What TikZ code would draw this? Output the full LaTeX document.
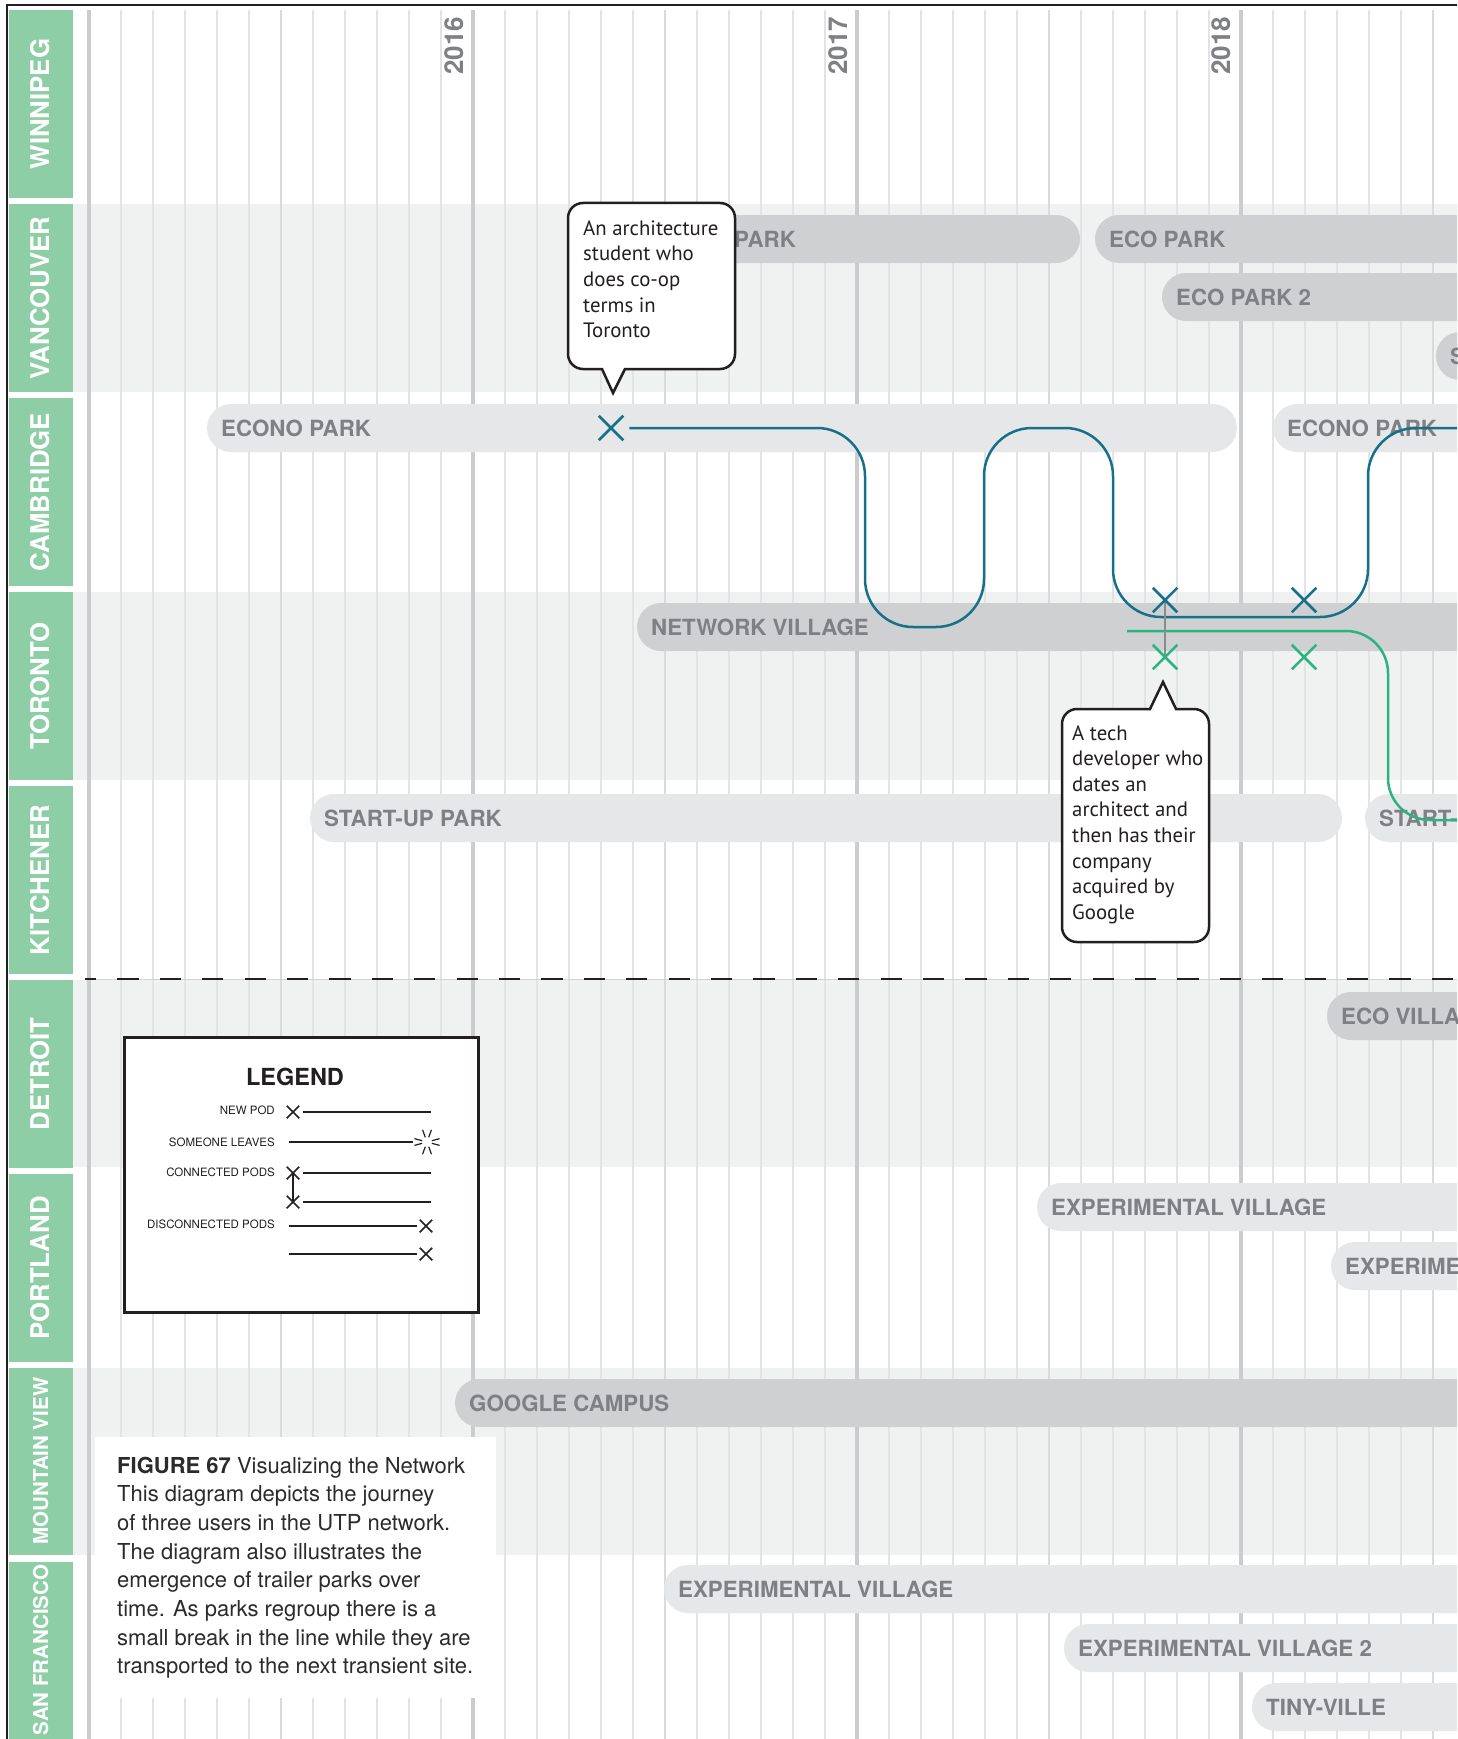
\documentclass[tikz,border=0pt]{standalone}
\usepackage{fontspec}
\setmainfont{TeX Gyre Heros}
\newfontfamily\bubblefont{PT Sans}
\usetikzlibrary{shapes.misc}
\definecolor{tabgreen}{HTML}{8DCEA6}
\definecolor{bandgrey}{HTML}{F0F1F1}
\definecolor{pilldark}{HTML}{CFD0D2}
\definecolor{pilllight}{HTML}{E6E7E8}
\definecolor{pilltext}{HTML}{7E8083}
\definecolor{monthline}{HTML}{E2E3E4}
\definecolor{halfline}{HTML}{D9DADB}
\definecolor{yearline}{HTML}{CBCCCE}
\definecolor{ink}{HTML}{231F20}
\definecolor{tealpath}{HTML}{17708A}
\definecolor{greenpath}{HTML}{2BB482}
\definecolor{linkgrey}{HTML}{8A8B8D}
\definecolor{captext}{HTML}{2B2B2B}

\newcommand{\drawpill}[6]{%
  \fill[#4, rounded corners=24pt] (#2,#1-24) rectangle (#3,#1+24);
  \node[pilltxt] (#5) at (#2+14,#1+8) {#6};
}
\newcommand{\drawtab}[4]{%
  \fill[tabgreen] (9,#1) rectangle (73,#1+188);
  \node[#4] (#2) at (49,#1+94) {#3};
}

\begin{document}
\begin{tikzpicture}[x=1pt,y=-1pt,
  pilltxt/.style={font=\fontsize{22.3}{24}\selectfont\bfseries, text=pilltext, anchor=base west, inner sep=0pt},
  tablbl/.style={font=\fontsize{25.8}{28}\selectfont\bfseries, text=white, rotate=90, anchor=base, inner sep=0pt},
  tablblsm/.style={font=\fontsize{20.5}{24}\selectfont\bfseries, text=white, rotate=90, anchor=base, inner sep=0pt},
  yearlbl/.style={font=\fontsize{26}{30}\selectfont\bfseries, text=pilltext, rotate=90, anchor=base west, inner sep=0pt},
  monthrule/.style={draw=monthline, line width=1.6pt},
  halfrule/.style={draw=halfline, line width=2.4pt},
  yearrule/.style={draw=yearline, line width=4pt},
  bubble/.style={draw=ink, line width=2.5pt, fill=white, line join=miter},
  bubbletxt/.style={font=\bubblefont\fontsize{20.8}{25.6}\selectfont, text=ink, anchor=base west, inner sep=0pt},
  captxt/.style={font=\fontsize{22}{28.7}\selectfont, text=captext, anchor=base west, inner sep=0pt},
  podx/.style={cross out, draw=#1, line width=2.5pt, minimum size=22pt, inner sep=0pt},
  legx/.style={cross out, draw=ink, line width=1.5pt, minimum size=11pt, inner sep=0pt},
  legline/.style={draw=ink, line width=2pt},
  legtxt/.style={font=\fontsize{11.5}{13}\selectfont, text=ink, anchor=base east, inner sep=0pt},
  tealline/.style={draw=tealpath, line width=2.5pt},
  greenline/.style={draw=greenpath, line width=2.5pt}
]
\useasboundingbox (0,0) rectangle (1457,1739);
\begin{scope}
\clip (0,0) rectangle (1457,1739);
\fill[white] (0,0) rectangle (1457,1739);

% shaded bands
\fill[bandgrey] (73,204) rectangle (1460,392);
\fill[bandgrey] (73,592) rectangle (1460,780);
\fill[bandgrey] (73,980) rectangle (1460,1167);
\fill[bandgrey] (73,1368) rectangle (1460,1555);

% grid
\foreach \k in {0,...,42}{
  \pgfmathtruncatemacro{\xx}{89+32*\k}
  \pgfmathtruncatemacro{\mm}{mod(\k,12)}
  \pgfmathtruncatemacro{\hh}{mod(\k,6)}
  \ifnum\mm=0
    \draw[yearrule] (\xx,10) -- (\xx,1745);
  \else\ifnum\hh=0
    \draw[halfrule] (\xx,10) -- (\xx,1745);
  \else
    \draw[monthrule] (\xx,10) -- (\xx,1745);
  \fi\fi
}

% divider
\draw[draw=black!18, line width=1pt] (85,979) -- (1460,979);
\draw[draw=ink, line width=2pt, dash pattern=on 21.2pt off 21.2pt, dash phase=10pt] (85,979) -- (1460,979);

% year labels
\node[yearlbl] (y2016) at (463,75) {2016};
\node[yearlbl] (y2017) at (847,75) {2017};
\node[yearlbl] (y2018) at (1230,75) {2018};

% pills
\fill[pilldark, rounded corners=24pt] (650,215) rectangle (1080,263);
\node[pilltxt] (vanA) at (734,247) {PARK};
\drawpill{239}{1095}{1500}{pilldark}{vanB}{ECO PARK}
\drawpill{297}{1162}{1500}{pilldark}{vanC}{ECO PARK 2}
\drawpill{356}{1436}{1500}{pilldark}{vanD}{S}
\drawpill{428}{207}{1237}{pilllight}{camA}{ECONO PARK}
\drawpill{428}{1273}{1500}{pilllight}{camB}{ECONO PARK}
\drawpill{627}{637}{1500}{pilldark}{torA}{NETWORK VILLAGE}
\drawpill{818}{310}{1342}{pilllight}{kitA}{START-UP PARK}
\drawpill{818}{1365}{1500}{pilllight}{kitB}{START-}
\drawpill{1016}{1327}{1500}{pilldark}{detA}{ECO VILLA}
\drawpill{1207}{1037}{1500}{pilllight}{porA}{EXPERIMENTAL VILLAGE}
\drawpill{1266}{1331}{1500}{pilllight}{porB}{EXPERIME}
\drawpill{1403}{455}{1500}{pilldark}{mvA}{GOOGLE CAMPUS}
\drawpill{1589}{664}{1500}{pilllight}{sfA}{EXPERIMENTAL VILLAGE}
\drawpill{1648}{1064}{1500}{pilllight}{sfB}{EXPERIMENTAL VILLAGE 2}
\drawpill{1707}{1252}{1500}{pilllight}{sfC}{TINY-VILLE}

% city tabs
\drawtab{10}{tabWin}{WINNIPEG}{tablbl}
\drawtab{204}{tabVan}{VANCOUVER}{tablbl}
\drawtab{398}{tabCam}{CAMBRIDGE}{tablbl}
\drawtab{592}{tabTor}{TORONTO}{tablbl}
\drawtab{786}{tabKit}{KITCHENER}{tablbl}
\drawtab{980}{tabDet}{DETROIT}{tablbl}
\drawtab{1174}{tabPor}{PORTLAND}{tablbl}
\fill[tabgreen] (9,1368) rectangle (73,1555);
\node[tablblsm] (tabMV) at (48,1461) {MOUNTAIN VIEW};
\fill[tabgreen] (9,1562) rectangle (73,1750);
\node[tablblsm] (tabSF) at (48,1650) {SAN FRANCISCO};

% frame
\draw[draw=ink, line width=2.2pt] (7,1745) -- (7,5) -- (1462,5);

% journeys
\node[podx=tealpath] (t1) at (611,428) {};
\coordinate (tEnd) at (1470,428);
\coordinate (gStart) at (1127,631);
\coordinate (gEnd) at (1470,820);
\draw[tealline, rounded corners=48pt] ([xshift=6pt]t1.east) -- (865,428) -- (865,627) -- (984,627) -- (984,428) -- (1113,428) -- (1113,617) -- (1368,617) -- (1368,428) -- (tEnd);
\draw[greenline, rounded corners=42pt] (gStart) -- (1388,631) -- (1388,820) -- (gEnd);
\coordinate (tx2c) at (1165,600);
\coordinate (gx2c) at (1165,657);
\draw[draw=linkgrey, line width=2.5pt] (tx2c) -- (gx2c);
\node[podx=tealpath] (t2) at (1165,600) {};
\node[podx=tealpath] (t3) at (1304,600) {};
\node[podx=greenpath] (g2) at (1165,657) {};
\node[podx=greenpath] (g3) at (1304,657) {};

% callout 1
\draw[bubble] (602,369) -- (583,369) arc[start angle=90,end angle=180,radius=15] -- (568,218) arc[start angle=180,end angle=270,radius=15] -- (720,203) arc[start angle=270,end angle=360,radius=15] -- (735,354) arc[start angle=0,end angle=90,radius=15] -- (625,369) -- (613,393) -- cycle;
\node[bubbletxt] (c1a) at (583,235) {An architecture};
\node[bubbletxt] (c1b) at (583,260.7) {student who};
\node[bubbletxt] (c1c) at (583,286.4) {does co-op};
\node[bubbletxt] (c1d) at (583,312.1) {terms in};
\node[bubbletxt] (c1e) at (583,337.8) {Toronto};

% callout 2
\draw[bubble] (1150,709) -- (1077,709) arc[start angle=270,end angle=180,radius=15] -- (1062,927) arc[start angle=180,end angle=90,radius=15] -- (1194,942) arc[start angle=90,end angle=0,radius=15] -- (1209,724) arc[start angle=0,end angle=-90,radius=15] -- (1176,709) -- (1163,682) -- cycle;
\node[bubbletxt] (c2a) at (1072,740) {A tech};
\node[bubbletxt] (c2b) at (1072,765.6) {developer who};
\node[bubbletxt] (c2c) at (1072,791.2) {dates an};
\node[bubbletxt] (c2d) at (1072,816.8) {architect and};
\node[bubbletxt] (c2e) at (1072,842.4) {then has their};
\node[bubbletxt] (c2f) at (1072,868) {company};
\node[bubbletxt] (c2g) at (1072,893.6) {acquired by};
\node[bubbletxt] (c2h) at (1072,919.2) {Google};

% legend
\node[draw=ink, line width=2.5pt, fill=white, minimum width=354pt, minimum height=275pt, anchor=north west, inner sep=0pt] (legend) at (123,1036) {};
\node[font=\fontsize{23.5}{26}\selectfont\bfseries, text=ink, anchor=base, inner sep=0pt] (legtitle) at (295,1085) {LEGEND};
\node[legtxt] (lt1) at (275,1114) {NEW POD};
\node[legtxt] (lt2) at (275,1146) {SOMEONE LEAVES};
\node[legtxt] (lt3) at (275,1176) {CONNECTED PODS};
\node[legtxt] (lt4) at (275,1228) {DISCONNECTED PODS};
\node[legx] (lx1) at (293,1112) {};
\coordinate (le1) at (431,1112);
\draw[legline] ([xshift=4pt]lx1.east) -- (le1);
\coordinate (ls2) at (289,1142);
\coordinate (burst) at (427,1142);
\draw[legline] (ls2) -- ([xshift=-14pt]burst);
\begin{scope}[shift={(427,1142)}]
  \foreach \a in {15,70,110,165,195,250,290,345}
    \draw[draw=ink, line width=1.2pt] (\a:5) -- (\a:13);
\end{scope}
\node[legx] (lx2) at (293,1173) {};
\node[legx] (lx3) at (293,1202) {};
\coordinate (le2) at (431,1173);
\coordinate (le3) at (431,1202);
\draw[draw=ink, line width=1.5pt] (lx2.center) -- (lx3.center);
\draw[legline] ([xshift=4pt]lx2.east) -- (le2);
\draw[legline] ([xshift=4pt]lx3.east) -- (le3);
\node[legx] (lx4) at (426,1226) {};
\node[legx] (lx5) at (426,1254) {};
\coordinate (ls4) at (289,1226);
\coordinate (ls5) at (289,1254);
\draw[legline] (ls4) -- ([xshift=-3pt]lx4.west);
\draw[legline] (ls5) -- ([xshift=-3pt]lx5.west);

% caption
\node[fill=white, minimum width=401pt, minimum height=261pt, anchor=north west, inner sep=0pt] (capbox) at (95,1437) {};
\node[captxt] (cap1) at (117,1473) {{\bfseries FIGURE 67} Visualizing the Network};
\node[captxt] (cap2) at (117,1501.7) {This diagram depicts the journey};
\node[captxt] (cap3) at (117,1530.4) {of three users in the UTP network.};
\node[captxt] (cap4) at (117,1559.1) {The diagram also illustrates the};
\node[captxt] (cap5) at (117,1587.8) {emergence of trailer parks over};
\node[captxt] (cap6) at (117,1616.5) {time. As parks regroup there is a};
\node[captxt] (cap7) at (117,1645.2) {small break in the line while they are};
\node[captxt] (cap8) at (117,1673.9) {transported to the next transient site.};
\end{scope}
\end{tikzpicture}
\end{document}
